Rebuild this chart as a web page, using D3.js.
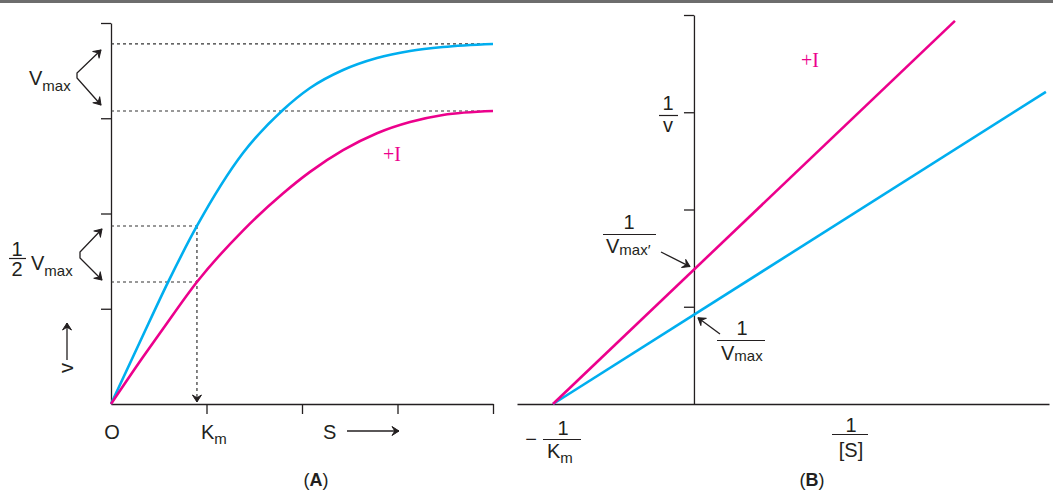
<!DOCTYPE html>
<html>
<head>
<meta charset="utf-8">
<script src="https://cdn.jsdelivr.net/npm/d3@7"></script>
<style>
  body { margin: 0; background: #fff; }
  svg { display: block; font-family: "Liberation Sans", Arial, sans-serif; }
  .lbl { fill: #231f20; font-size: 20px; }
  .sub { font-size: 15px; }
  .ser { font-family: "Liberation Serif", "Times New Roman", serif; fill: #ec008c; font-size: 20px; }
</style>
</head>
<body>
<svg id="chart" width="1053" height="490"></svg>
<script>
// Panel A: Michaelis-Menten curves (v against S)
const sNoInhib = [0, 0.3, 0.6, 0.9, 1.382, 1.8, 2.084, 2.43, 2.785, 3.131, 3.476, 4.0];
const vNoInhib = [0, 0.645, 1.285, 1.869, 2.635, 3.087, 3.318, 3.507, 3.633, 3.706, 3.748, 3.78];
const sInhib = [0, 0.335, 0.545, 0.9, 1.382, 1.8, 2.084, 2.43, 2.785, 3.131, 3.476, 4.0];
const vInhib = [0, 0.493, 0.79, 1.281, 1.821, 2.21, 2.437, 2.665, 2.843, 2.961, 3.035, 3.076];
const vmax = 3.78, vmaxI = 3.076, km = 0.9;
const halfV = 1.869, halfVI = 1.281;
const tickA = [1, 2, 3, 4];

// Panel B: Lineweaver-Burk lines (1/v against 1/[S])
const invS = [-1, 2.496];
const invVNoInhib = [0, 3.21];
const invSInhib = [-1, 1.851];
const invVInhib = [0, 3.94];
const tickB = [1, 2, 3, 4];

const blue = '#00aeef', magenta = '#ec008c', ink = '#231f20';

let svg = d3.select('#chart');

// top rule
svg.append('line')
  .attr('x1', 0).attr('x2', 1053).attr('y1', 1.5).attr('y2', 1.5)
  .attr('stroke', '#6d6d6d').attr('stroke-width', 3);

let defs = svg.append('defs');
defs.append('marker')
  .attr('id', 'head')
  .attr('markerUnits', 'userSpaceOnUse')
  .attr('viewBox', '-9 -6 11 12')
  .attr('refX', 0).attr('refY', 0)
  .attr('markerWidth', 11).attr('markerHeight', 12)
  .attr('orient', 'auto-start-reverse')
  .append('path')
  .attr('d', 'M0,0 L-7,-4.5 L-4.2,0 L-7,4.5 Z')
  .attr('fill', ink).attr('stroke', ink)
  .attr('stroke-width', 1).attr('stroke-linejoin', 'round')
  .attr('stroke-dasharray', 'none');

// ---------- Panel A ----------
let xA = d3.scaleLinear().domain([0, 4]).range([111, 493]);
let yA = d3.scaleLinear().domain([0, 4]).range([404, 23]);

let gA = svg.append('g');

function styleAxis(g) {
  g.selectAll('path, line').attr('stroke', ink).attr('stroke-width', 1.3);
}

gA.append('g')
  .attr('transform', `translate(${xA(0)},0)`)
  .call(d3.axisLeft(yA).tickValues(tickA).tickSize(10).tickSizeOuter(0).tickFormat(''))
  .call(styleAxis);
gA.append('g')
  .attr('transform', `translate(0,${yA(0)})`)
  .call(d3.axisBottom(xA).tickValues(tickA).tickSize(10).tickSizeOuter(0).tickFormat(''))
  .call(styleAxis);

// dotted guides
let dots = gA.append('g')
  .attr('stroke', '#333').attr('stroke-width', 1.2)
  .attr('stroke-dasharray', '3,3').attr('fill', 'none');
for (let v of [vmax, vmaxI]) {
  dots.append('line')
    .attr('x1', xA(0)).attr('x2', xA(4))
    .attr('y1', yA(v)).attr('y2', yA(v));
}
for (let v of [halfV, halfVI]) {
  dots.append('line')
    .attr('x1', xA(0)).attr('x2', xA(km))
    .attr('y1', yA(v)).attr('y2', yA(v));
}
dots.append('line')
  .attr('x1', xA(km)).attr('x2', xA(km))
  .attr('y1', yA(halfV)).attr('y2', yA(0) - 2)
  .attr('marker-end', 'url(#head)');

let curveLine = d3.line()
  .x(d => xA(d[0]))
  .y(d => yA(d[1]))
  .curve(d3.curveMonotoneX);

gA.append('path')
  .datum(d3.zip(sNoInhib, vNoInhib))
  .attr('d', curveLine)
  .attr('fill', 'none').attr('stroke', blue).attr('stroke-width', 2.6);
gA.append('path')
  .datum(d3.zip(sInhib, vInhib))
  .attr('d', curveLine)
  .attr('fill', 'none').attr('stroke', magenta).attr('stroke-width', 2.6);

// brace arrows
let arrows = svg.append('g')
  .attr('stroke', ink).attr('stroke-width', 1.3).attr('fill', 'none');
arrows.append('path')
  .attr('d', `M101,${yA(vmax) + 6} L77,73 L77,78 L101,${yA(vmaxI) - 6}`)
  .attr('marker-start', 'url(#head)').attr('marker-end', 'url(#head)');
arrows.append('path')
  .attr('d', `M102,${yA(halfV) + 3} L80,252 L80,258 L102,${yA(halfVI) - 2}`)
  .attr('marker-start', 'url(#head)').attr('marker-end', 'url(#head)');
arrows.append('line')
  .attr('x1', 67).attr('x2', 67).attr('y1', 360).attr('y2', 323)
  .attr('marker-end', 'url(#head)');
arrows.append('line')
  .attr('x1', 347).attr('x2', 399).attr('y1', 431).attr('y2', 431)
  .attr('marker-end', 'url(#head)');

// text panel A
let t = svg.append('g').attr('class', 'lbl');
let vm = t.append('text').attr('x', 29).attr('y', 85);
vm.append('tspan').text('V');
vm.append('tspan').attr('class', 'sub').attr('dy', 6).text('max');

t.append('text').attr('x', 17).attr('y', 256).attr('text-anchor', 'middle').text('1');
t.append('line').attr('x1', 9).attr('x2', 26).attr('y1', 258.5).attr('y2', 258.5)
  .attr('stroke', ink).attr('stroke-width', 1.2);
t.append('text').attr('x', 17).attr('y', 276).attr('text-anchor', 'middle').text('2');
let hv = t.append('text').attr('x', 31).attr('y', 270);
hv.append('tspan').text('V');
hv.append('tspan').attr('class', 'sub').attr('dy', 6).text('max');

t.append('text').attr('transform', 'translate(73,368) rotate(-90)')
  .attr('text-anchor', 'middle').text('v');

t.append('text').attr('x', 112).attr('y', 439).attr('text-anchor', 'middle').text('O');
let kmA = t.append('text').attr('x', 201).attr('y', 439);
kmA.append('tspan').text('K');
kmA.append('tspan').attr('class', 'sub').attr('dy', 5).text('m');
t.append('text').attr('x', 323).attr('y', 439).text('S');

let capA = t.append('text').attr('x', 316).attr('y', 486).attr('text-anchor', 'middle')
  .style('font-size', '18px');
capA.append('tspan').text('(');
capA.append('tspan').style('font-weight', 'bold').text('A');
capA.append('tspan').text(')');

svg.append('text').attr('class', 'ser').attr('x', 383).attr('y', 161).text('+I');

// ---------- Panel B ----------
let xB = d3.scaleLinear().domain([-1.255, 2.518]).range([517, 1049]);
let yB = d3.scaleLinear().domain([0, 4]).range([404, 15]);
let gB = svg.append('g');

gB.append('g')
  .attr('transform', `translate(${xB(0)},0)`)
  .call(d3.axisLeft(yB).tickValues(tickB).tickSize(10).tickSizeOuter(0).tickFormat(''))
  .call(styleAxis);
gB.append('g')
  .attr('transform', `translate(0,${yB(0)})`)
  .call(d3.axisBottom(xB).tickValues([]).tickSizeOuter(0))
  .call(styleAxis);

let lineB = d3.line().x(d => xB(d[0])).y(d => yB(d[1]));
gB.append('path')
  .datum(d3.zip(invS, invVNoInhib))
  .attr('d', lineB)
  .attr('fill', 'none').attr('stroke', blue).attr('stroke-width', 2.6);
gB.append('path')
  .datum(d3.zip(invSInhib, invVInhib))
  .attr('d', lineB)
  .attr('fill', 'none').attr('stroke', magenta).attr('stroke-width', 2.6);

// intercept pointers
let slopeI = invVInhib[1] / (invSInhib[1] - invSInhib[0]);
let slopeN = invVNoInhib[1] / (invS[1] - invS[0]);
arrows.append('line')
  .attr('x1', 661).attr('y1', 252)
  .attr('x2', xB(0) - 4).attr('y2', yB(slopeI) - 3)
  .attr('marker-end', 'url(#head)');
arrows.append('line')
  .attr('x1', 720).attr('y1', 334)
  .attr('x2', xB(0) + 4).attr('y2', yB(slopeN) + 3)
  .attr('marker-end', 'url(#head)');

function bar(x1, x2, y) {
  t.append('line').attr('x1', x1).attr('x2', x2).attr('y1', y).attr('y2', y)
    .attr('stroke', ink).attr('stroke-width', 1.2);
}

// 1/v
t.append('text').attr('x', 668).attr('y', 110).attr('text-anchor', 'middle').text('1');
bar(659, 678, 115.5);
t.append('text').attr('x', 668).attr('y', 132).attr('text-anchor', 'middle').text('v');

// 1/Vmax'
t.append('text').attr('x', 629).attr('y', 229).attr('text-anchor', 'middle').text('1');
bar(603, 656, 234.5);
let vmi = t.append('text').attr('x', 606).attr('y', 253);
vmi.append('tspan').text('V');
vmi.append('tspan').attr('class', 'sub').attr('dy', 2).text('max\u2032');

// 1/Vmax
t.append('text').attr('x', 742).attr('y', 335).attr('text-anchor', 'middle').text('1');
bar(717, 765, 340.5);
let vmb = t.append('text').attr('x', 721).attr('y', 360);
vmb.append('tspan').text('V');
vmb.append('tspan').attr('class', 'sub').attr('dy', 1).text('max');

// -1/Km
t.append('text').attr('x', 531).attr('y', 446).attr('text-anchor', 'middle').text('\u2212');
t.append('text').attr('x', 563).attr('y', 435).attr('text-anchor', 'middle').text('1');
bar(543, 581, 439.5);
let kmB = t.append('text').attr('x', 547).attr('y', 458);
kmB.append('tspan').text('K');
kmB.append('tspan').attr('class', 'sub').attr('dy', 5).text('m');

// 1/[S]
t.append('text').attr('x', 851).attr('y', 432).attr('text-anchor', 'middle').text('1');
bar(832, 868, 434.5);
t.append('text').attr('x', 851).attr('y', 457).attr('text-anchor', 'middle').text('[S]');

let capB = t.append('text').attr('x', 812).attr('y', 486).attr('text-anchor', 'middle')
  .style('font-size', '18px');
capB.append('tspan').text('(');
capB.append('tspan').style('font-weight', 'bold').text('B');
capB.append('tspan').text(')');

svg.append('text').attr('class', 'ser').attr('x', 801).attr('y', 67).text('+I');
</script>
</body>
</html>
